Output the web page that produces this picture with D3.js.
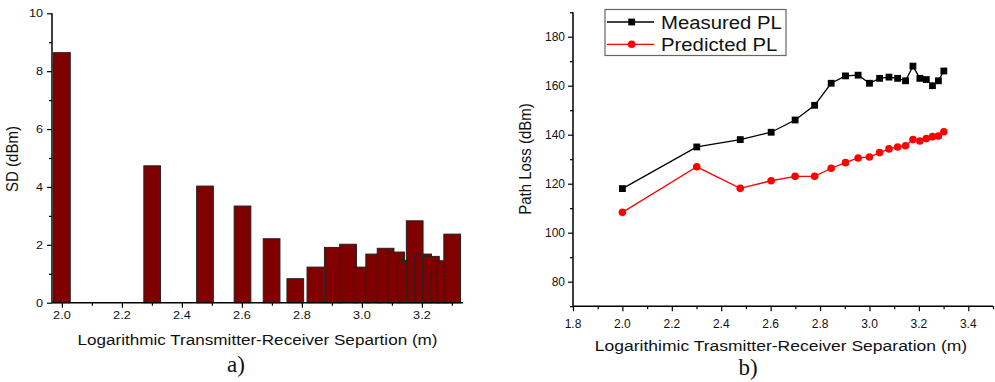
<!DOCTYPE html>
<html><head><meta charset="utf-8">
<script src="https://cdn.jsdelivr.net/npm/d3@7"></script>
<style>
body{margin:0;background:#fff;}
svg{display:block;font-family:Arial,"Liberation Sans",sans-serif;}
</style></head>
<body><svg id="c" width="995" height="382"></svg>
<script>
// ---- data ----
const logDist = [2.000, 2.301, 2.477, 2.602, 2.699, 2.778, 2.845, 2.903, 2.954, 3.000, 3.041, 3.079, 3.114, 3.146, 3.176, 3.204, 3.230, 3.255, 3.279, 3.301];
const sdValues = [8.64, 4.73, 4.03, 3.34, 2.21, 0.83, 1.23, 1.91, 2.02, 1.23, 1.68, 1.88, 1.75, 1.46, 2.83, 1.68, 1.60, 0.99, 1.45, 2.37];
const measuredPL = [118, 135, 138, 141, 146, 152, 161, 164, 164.3, 161, 163, 163.5, 163, 162, 168, 163, 162.5, 160, 162, 166];
const predictedPL = [108.3, 126.9, 118.1, 121.2, 123, 123, 126.3, 128.6, 130.5, 130.9, 132.7, 134.2, 135, 135.5, 138, 137.4, 138.4, 139.2, 139.5, 141.2];
const leftXTicks = [2.0, 2.2, 2.4, 2.6, 2.8, 3.0, 3.2];
const leftYTicks = [0, 2, 4, 6, 8, 10];
const rightXTicks = [1.8, 2.0, 2.2, 2.4, 2.6, 2.8, 3.0, 3.2, 3.4];
const rightYTicks = [80, 100, 120, 140, 160, 180];
const seriesNames = ["Measured PL", "Predicted PL"];

const svg = d3.select("#c");

function stretchText(g, x, y, txt, size, sx, anchor, rot) {
  const t = g.append("text")
    .attr("transform", `translate(${x},${y}) scale(${sx},1)` + (rot ? ` rotate(${rot})` : ""))
    .attr("text-anchor", anchor || "middle")
    .attr("font-size", size)
    .attr("fill", "#111")
    .text(txt);
  return t;
}

// ---------- Left chart (a) ----------
{
  const g = svg.append("g");
  const x = d3.scaleLinear().domain([1.967, 3.337]).range([52, 463]);
  const y = d3.scaleLinear().domain([0, 10]).range([302.7, 13.3]);
  const bw = 0.0557;

  g.selectAll("rect.bar").data(logDist).enter().append("rect")
    .attr("class", "bar")
    .attr("x", (d) => x(d - bw / 2))
    .attr("width", (d) => x(d + bw / 2) - x(d - bw / 2))
    .attr("y", (d, i) => y(sdValues[i]))
    .attr("height", (d, i) => y(0) - y(sdValues[i]))
    .attr("fill", "#800000")
    .attr("stroke", "#222")
    .attr("stroke-width", 1);

  // axes
  const xa = g.append("g").attr("transform", `translate(0,${y(0)})`);
  xa.call(d3.axisBottom(x).tickValues(d3.range(2.1, 3.35, 0.2)).tickSize(3).tickFormat(""));
  xa.call(g2 => g2.append("g").call(d3.axisBottom(x).tickValues(leftXTicks).tickSize(5).tickFormat("")));
  xa.selectAll(".domain").remove();
  g.append("line").attr("x1", 52).attr("x2", 463).attr("y1", y(0)).attr("y2", y(0)).attr("stroke", "#000").attr("stroke-width", 1.5);
  const ya = g.append("g").attr("transform", `translate(52,0)`);
  ya.call(d3.axisLeft(y).tickValues(d3.range(1, 10, 2)).tickSize(3).tickFormat(""));
  ya.call(g2 => g2.append("g").call(d3.axisLeft(y).tickValues(leftYTicks).tickSize(5).tickFormat("")));
  ya.selectAll(".domain").remove();
  g.append("line").attr("x1", 52).attr("x2", 52).attr("y1", y(0)).attr("y2", y(10)).attr("stroke", "#000").attr("stroke-width", 1.5);
  g.selectAll(".tick line").attr("stroke", "#000").attr("stroke-width", 1.2);

  leftXTicks.forEach(v => stretchText(g, x(v), 319, v.toFixed(1), 11, 1.15, "middle"));
  leftYTicks.forEach(v => stretchText(g, 43, y(v) + 4, String(v), 11, 1.15, "end"));
  stretchText(g, 257.5, 345, "Logarithmic Transmitter-Receiver Separtion (m)", 15, 1.14, "middle");
  stretchText(g, 18, 159, "SD (dBm)", 15, 1.1, "middle", -90);
  g.append("text").attr("x", 236).attr("y", 372).attr("text-anchor", "middle")
    .attr("font-family", "'Liberation Serif','Times New Roman',serif").attr("font-size", 23).attr("fill", "#111").text("a)");
}

// ---------- Right chart (b) ----------
{
  const g = svg.append("g");
  const x = d3.scaleLinear().domain([1.8, 3.5]).range([573, 993]);
  const y = d3.scaleLinear().domain([70, 190]).range([306.2, 12.2]);

  const xa = g.append("g").attr("transform", `translate(0,${y(70)})`);
  xa.call(d3.axisBottom(x).tickValues(d3.range(1.9, 3.55, 0.2)).tickSize(3).tickFormat(""));
  xa.call(g2 => g2.append("g").call(d3.axisBottom(x).tickValues(rightXTicks).tickSize(5).tickFormat("")));
  xa.selectAll(".domain").remove();
  g.append("line").attr("x1", 573).attr("x2", 993).attr("y1", y(70)).attr("y2", y(70)).attr("stroke", "#000").attr("stroke-width", 1.5);
  const ya = g.append("g").attr("transform", `translate(573,0)`);
  ya.call(d3.axisLeft(y).tickValues(d3.range(70, 195, 20)).tickSize(3).tickFormat(""));
  ya.call(g2 => g2.append("g").call(d3.axisLeft(y).tickValues(rightYTicks).tickSize(5).tickFormat("")));
  ya.selectAll(".domain").remove();
  g.append("line").attr("x1", 573).attr("x2", 573).attr("y1", y(70)).attr("y2", y(190)).attr("stroke", "#000").attr("stroke-width", 1.5);
  g.selectAll(".tick line").attr("stroke", "#000").attr("stroke-width", 1.2);

  rightXTicks.forEach(v => stretchText(g, x(v), 328, v.toFixed(1), 12, 1.0, "middle"));
  rightYTicks.forEach(v => stretchText(g, 565, y(v) + 4.3, String(v), 12, 1.0, "end"));
  stretchText(g, 781, 351, "Logarithimic Trasmitter-Receiver Separation (m)", 15.5, 1.13, "middle");
  stretchText(g, 531, 159, "Path Loss (dBm)", 15, 1.05, "middle", -90);
  g.append("text").attr("x", 748).attr("y", 375).attr("text-anchor", "middle")
    .attr("font-family", "'Liberation Serif','Times New Roman',serif").attr("font-size", 23).attr("fill", "#111").text("b)");

  const line = d3.line().x((d) => x(d[0])).y((d) => y(d[1]));
  const mData = logDist.map((d, i) => [d, measuredPL[i]]);
  const pData = logDist.map((d, i) => [d, predictedPL[i]]);
  g.append("path").attr("d", line(mData)).attr("fill", "none").attr("stroke", "#000").attr("stroke-width", 1.3);
  g.append("path").attr("d", line(pData)).attr("fill", "none").attr("stroke", "#ff0000").attr("stroke-width", 1.3);
  g.selectAll("rect.m").data(mData).enter().append("rect").attr("class", "m")
    .attr("x", d => x(d[0]) - 3.4).attr("y", d => y(d[1]) - 3.4).attr("width", 6.8).attr("height", 6.8).attr("fill", "#000");
  g.selectAll("circle.p").data(pData).enter().append("circle").attr("class", "p")
    .attr("cx", d => x(d[0])).attr("cy", d => y(d[1])).attr("r", 3.8).attr("fill", "#ff0000");

  // legend
  const lg = g.append("g");
  lg.append("rect").attr("x", 605).attr("y", 9.5).attr("width", 181).attr("height", 46)
    .attr("fill", "#fff").attr("stroke", "#666").attr("stroke-width", 1.2);
  const rows = [22, 44.3];
  const cols = ["#000", "#ff0000"];
  seriesNames.forEach((n, i) => {
    lg.append("line").attr("x1", 607).attr("x2", 654).attr("y1", rows[i]).attr("y2", rows[i]).attr("stroke", cols[i]).attr("stroke-width", 1.3);
    if (i === 0) lg.append("rect").attr("x", 631.7 - 3.4).attr("y", rows[i] - 3.4).attr("width", 6.8).attr("height", 6.8).attr("fill", "#000");
    else lg.append("circle").attr("cx", 631.7).attr("cy", rows[i]).attr("r", 3.8).attr("fill", "#ff0000");
    stretchText(lg, 661, rows[i] + 7, n, 19, 1.07, "start");
  });
}
</script></body></html>
